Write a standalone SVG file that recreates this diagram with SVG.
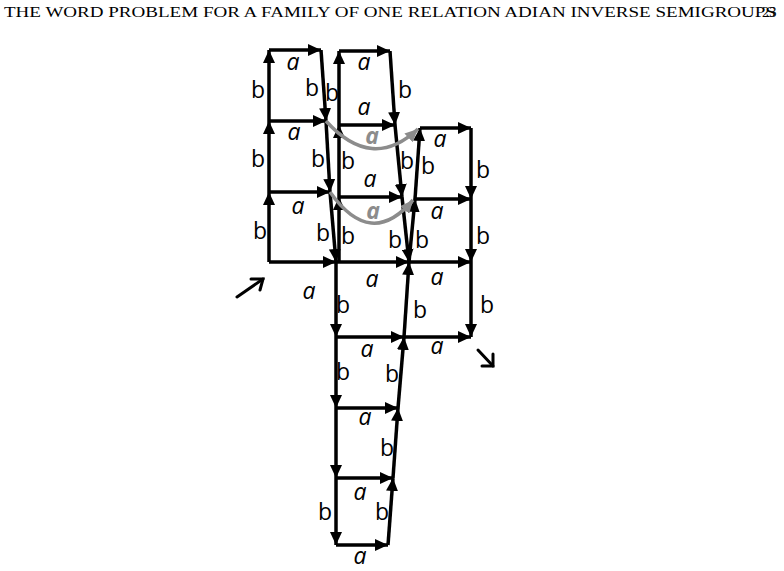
<svg xmlns="http://www.w3.org/2000/svg" width="784" height="571" viewBox="0 0 784 571">
<defs>
<marker id="ah" markerUnits="userSpaceOnUse" markerWidth="14" markerHeight="12" refX="13" refY="6" orient="auto"><path d="M0,0 L13,6 L0,12 z" fill="#000"/></marker>
<marker id="ahg" markerUnits="userSpaceOnUse" markerWidth="14" markerHeight="12" refX="13" refY="6" orient="auto"><path d="M0,0 L13,6 L0,12 z" fill="#8c8c8c"/></marker>
<style>
.e{stroke:#000;stroke-width:3.5;fill:none;marker-end:url(#ah)}
.g{stroke:#8c8c8c;stroke-width:3.5;fill:none;marker-end:url(#ahg)}
.p{stroke:#000;stroke-width:3;fill:none;stroke-linecap:round}
.l{font-family:"Open Sans","DejaVu Sans",sans-serif;font-size:23px;fill:#000;text-anchor:middle}
.a{font-style:italic}
.lg{font-family:"Open Sans","DejaVu Sans",sans-serif;font-size:23px;fill:#8c8c8c;text-anchor:middle;font-weight:bold;font-style:italic}
.h{font-family:"Liberation Serif",serif;font-size:14.5px;fill:#000}
</style>
</defs>
<text class="h" x="4" y="17" textLength="772" lengthAdjust="spacingAndGlyphs">THE WORD PROBLEM FOR A FAMILY OF ONE RELATION ADIAN INVERSE SEMIGROUPS</text>
<text class="h" x="762" y="17">23</text>
<g id="connectors">
<line class="e" x1="269" y1="262" x2="269" y2="192"/>
<line class="e" x1="269" y1="192" x2="269" y2="121"/>
<line class="e" x1="269" y1="121" x2="269" y2="50"/>
<line class="e" x1="269" y1="50" x2="321" y2="50"/>
<line class="e" x1="269" y1="121" x2="326" y2="121"/>
<line class="e" x1="269" y1="192" x2="330" y2="192"/>
<line class="e" x1="269" y1="262" x2="336" y2="262"/>
<line class="e" x1="321" y1="50" x2="326" y2="121"/>
<line class="e" x1="326" y1="121" x2="330" y2="192"/>
<line class="e" x1="330" y1="192" x2="336" y2="262"/>
<line class="e" x1="339" y1="262" x2="339" y2="197"/>
<line class="e" x1="339" y1="197" x2="339" y2="125"/>
<line class="e" x1="339" y1="125" x2="339" y2="51"/>
<line class="e" x1="339" y1="51" x2="390" y2="51"/>
<line class="e" x1="339" y1="125" x2="395" y2="125"/>
<line class="e" x1="339" y1="197" x2="402" y2="197"/>
<line class="e" x1="336" y1="262" x2="409" y2="262"/>
<line class="e" x1="390" y1="51" x2="395" y2="125"/>
<line class="e" x1="395" y1="125" x2="402" y2="197"/>
<line class="e" x1="402" y1="197" x2="409" y2="262"/>
<line class="e" x1="388" y1="545" x2="393" y2="478"/>
<line class="e" x1="393" y1="478" x2="398" y2="408"/>
<line class="e" x1="398" y1="408" x2="404" y2="337"/>
<line class="e" x1="404" y1="337" x2="409" y2="262"/>
<line class="e" x1="409" y1="262" x2="415" y2="199"/>
<line class="e" x1="415" y1="199" x2="420" y2="128"/>
<line class="e" x1="420" y1="128" x2="471" y2="128"/>
<line class="e" x1="415" y1="199" x2="471" y2="199"/>
<line class="e" x1="409" y1="262" x2="471" y2="262"/>
<line class="e" x1="404" y1="337" x2="471" y2="337"/>
<line class="e" x1="471" y1="128" x2="471" y2="199"/>
<line class="e" x1="471" y1="199" x2="471" y2="262"/>
<line class="e" x1="471" y1="262" x2="471" y2="337"/>
<line class="e" x1="336" y1="262" x2="336" y2="337"/>
<line class="e" x1="336" y1="337" x2="336" y2="408"/>
<line class="e" x1="336" y1="408" x2="336" y2="478"/>
<line class="e" x1="336" y1="478" x2="336" y2="545"/>
<line class="e" x1="336" y1="337" x2="404" y2="337"/>
<line class="e" x1="336" y1="408" x2="398" y2="408"/>
<line class="e" x1="336" y1="478" x2="393" y2="478"/>
<line class="e" x1="336" y1="545" x2="388" y2="545"/>
<path class="g" d="M326,121 Q372,172 418,129"/>
<path class="g" d="M330,192 Q371,250 413,200"/>
<line class="p" x1="237" y1="297" x2="263" y2="279"/>
<polyline class="p" points="251,279 263,279 260,290"/>
<line class="p" x1="478" y1="350" x2="493" y2="366"/>
<polyline class="p" points="493,354 493,366 482,366"/>
</g>
<g id="labels">
<text class="l a" x="293" y="70">a</text>
<text class="l" x="258" y="98">b</text>
<text class="l" x="312" y="96">b</text>
<text class="l" x="332" y="101">b</text>
<text class="l a" x="364" y="70">a</text>
<text class="l" x="405" y="98">b</text>
<text class="l a" x="294" y="140">a</text>
<text class="l a" x="364" y="115">a</text>
<text class="l" x="258" y="167">b</text>
<text class="l" x="318" y="167">b</text>
<text class="l" x="348" y="169">b</text>
<text class="l" x="407" y="169">b</text>
<text class="l" x="428" y="174">b</text>
<text class="l a" x="440" y="147">a</text>
<text class="l" x="483" y="178">b</text>
<text class="l a" x="370" y="187">a</text>
<text class="l a" x="298" y="214">a</text>
<text class="l" x="260" y="239">b</text>
<text class="l" x="323" y="241">b</text>
<text class="l" x="348" y="244">b</text>
<text class="l" x="395" y="248">b</text>
<text class="l" x="422" y="248">b</text>
<text class="l a" x="437" y="219">a</text>
<text class="l" x="483" y="244">b</text>
<text class="lg" x="372" y="144">a</text>
<text class="lg" x="373" y="219">a</text>
<text class="l a" x="372" y="287">a</text>
<text class="l a" x="437" y="285">a</text>
<text class="l a" x="309" y="299">a</text>
<text class="l" x="343" y="313">b</text>
<text class="l" x="420" y="318">b</text>
<text class="l" x="487" y="313">b</text>
<text class="l a" x="367" y="357">a</text>
<text class="l a" x="437" y="354">a</text>
<text class="l" x="343" y="380">b</text>
<text class="l" x="392" y="382">b</text>
<text class="l a" x="365" y="425">a</text>
<text class="l" x="387" y="456">b</text>
<text class="l a" x="360" y="500">a</text>
<text class="l" x="325" y="520">b</text>
<text class="l" x="382" y="520">b</text>
<text class="l a" x="360" y="564">a</text>
</g>
</svg>
